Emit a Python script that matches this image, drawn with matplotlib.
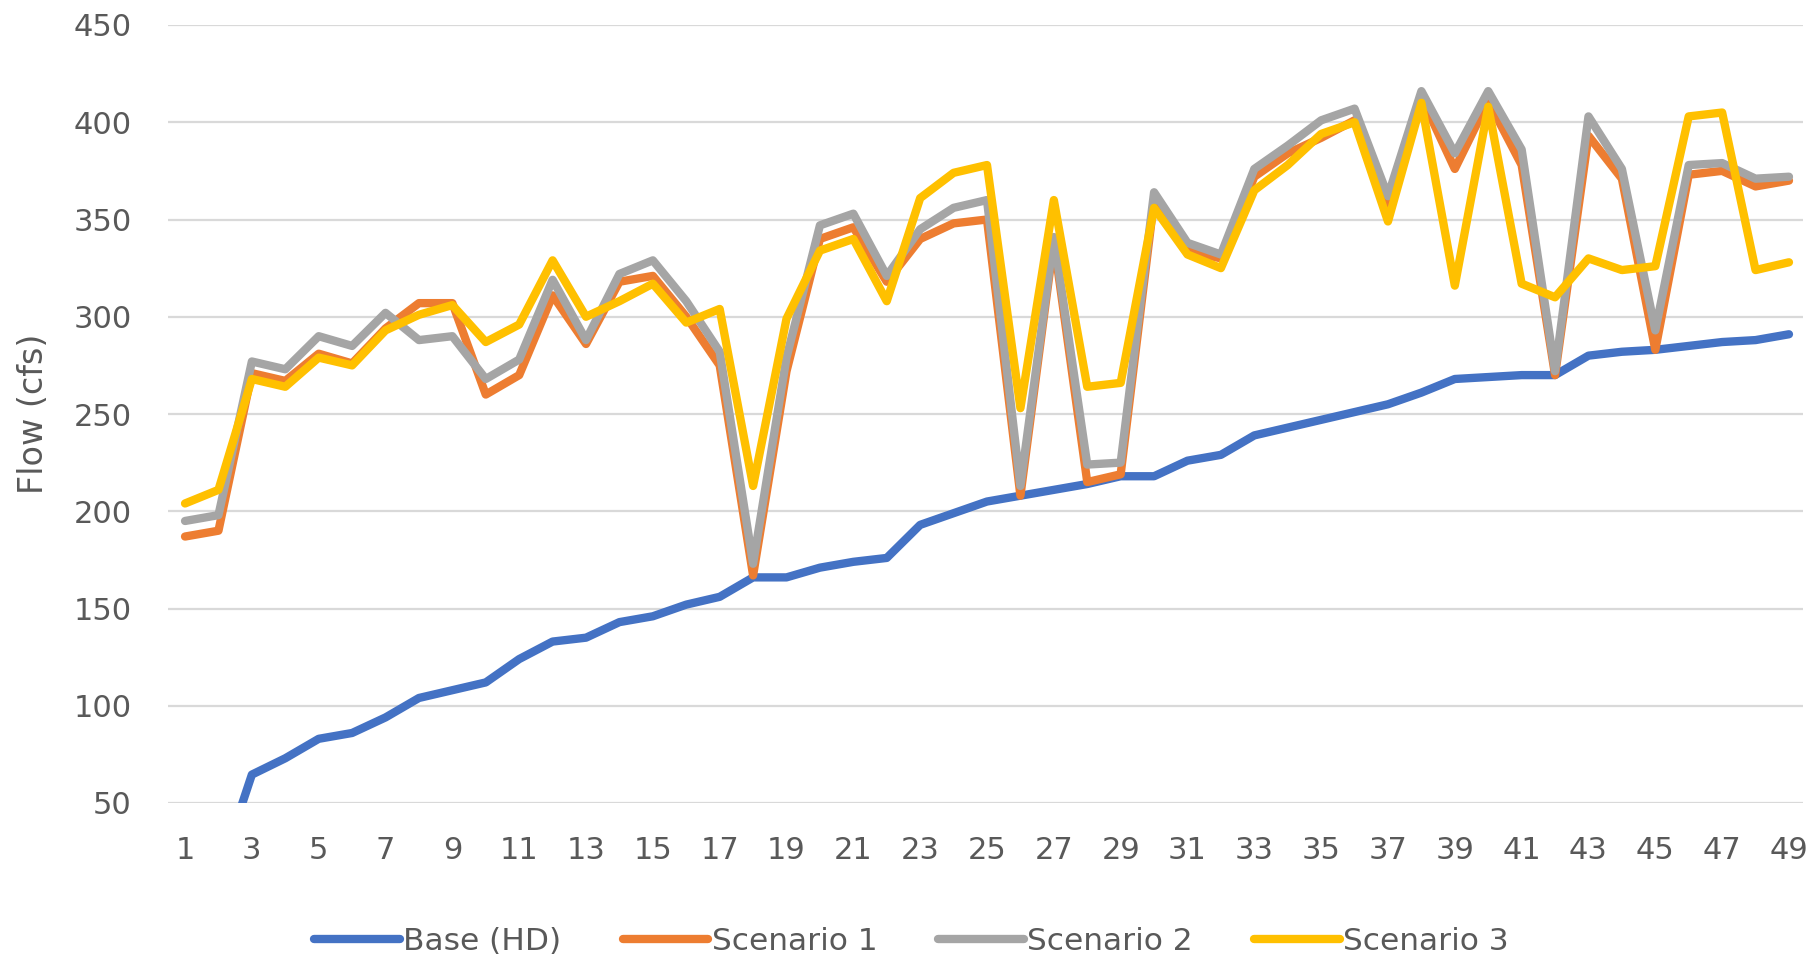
import matplotlib
matplotlib.use("Agg")
import matplotlib.pyplot as plt

x = list(range(1, 50))

base_hd = [5, 13, 64.6, 73, 83, 86, 94, 104, 108, 112, 124, 133, 135, 143, 146,
           152, 156, 166, 166, 171, 174, 176, 193, 199, 205, 208, 211, 214, 218, 218,
           226, 229, 239, 243, 247, 251, 255, 261, 268, 269, 270, 270, 280, 282, 283,
           285, 287, 288, 291]

scenario1 = [187, 190, 271, 267, 281, 276, 294, 307, 307, 260, 270, 311, 286, 318, 321,
             300, 275, 167, 272, 340, 346, 318, 340, 348, 350, 208, 339, 215, 219, 360,
             334, 330, 372, 384, 392, 401, 357, 413, 376, 411, 378, 270, 393, 371, 283,
             373, 375, 367, 370]

scenario2 = [195, 198, 277, 273, 290, 285, 302, 288, 290, 268, 278, 319, 288, 322, 329,
             308, 282, 173, 279, 347, 353, 321, 345, 356, 360, 213, 341, 224, 225, 364,
             338, 332, 376, 388, 401, 407, 362, 416, 384, 416, 386, 272, 403, 376, 293,
             378, 379, 371, 372]

scenario3 = [204, 211, 268, 264, 279, 275, 293, 301, 306, 287, 296, 329, 300, 308, 317,
             297, 304, 213, 299, 334, 340, 308, 361, 374, 378, 253, 360, 264, 266, 356,
             332, 325, 365, 378, 394, 400, 349, 410, 316, 408, 317, 310, 330, 324, 326,
             403, 405, 324, 328]

series_names = ["Base (HD)", "Scenario 1", "Scenario 2", "Scenario 3"]
colors = ["#4472C4", "#ED7D31", "#A5A5A5", "#FFC000"]
xtick_labels = [str(v) for v in range(1, 50, 2)]
yticks = list(range(50, 451, 50))

plt.rcParams['font.family'] = ['DejaVu Sans']
text_color = "#595959"

fig = plt.figure(figsize=(18.12, 9.59), dpi=100)
ax = fig.add_axes([168/1812, 1 - 803/959, (1803-168)/1812, (803-25)/959])

for data, name, c in zip([base_hd, scenario1, scenario2, scenario3], series_names, colors):
    ax.plot(x, data, color=c, lw=6.0, label=name, solid_joinstyle='round',
            solid_capstyle='round')

ax.set_ylim(50, 450)
ax.set_xlim(0.49, 49.42)
ax.set_yticks(yticks)
ax.set_xticks(list(range(1, 50, 2)))
ax.set_xticklabels(xtick_labels)
ax.grid(axis='y', color='#D9D9D9', lw=1.6)
ax.set_axisbelow(True)
for s in ax.spines.values():
    s.set_visible(False)
ax.tick_params(axis='y', length=0, pad=26, labelsize=22, labelcolor=text_color)
ax.tick_params(axis='x', length=0, pad=24, labelsize=22, labelcolor=text_color)

ax.set_ylabel("Flow (cfs)", fontsize=24, color=text_color)
ax.yaxis.set_label_coords(-0.072, 0.5)

fig.legend(loc='center', bbox_to_anchor=(0.503, 0.018), ncol=4, frameon=False,
           fontsize=22.5, handlelength=2.75, handletextpad=0.1, columnspacing=1.95,
           labelcolor=text_color)

fig.savefig("out.png", dpi=100)
